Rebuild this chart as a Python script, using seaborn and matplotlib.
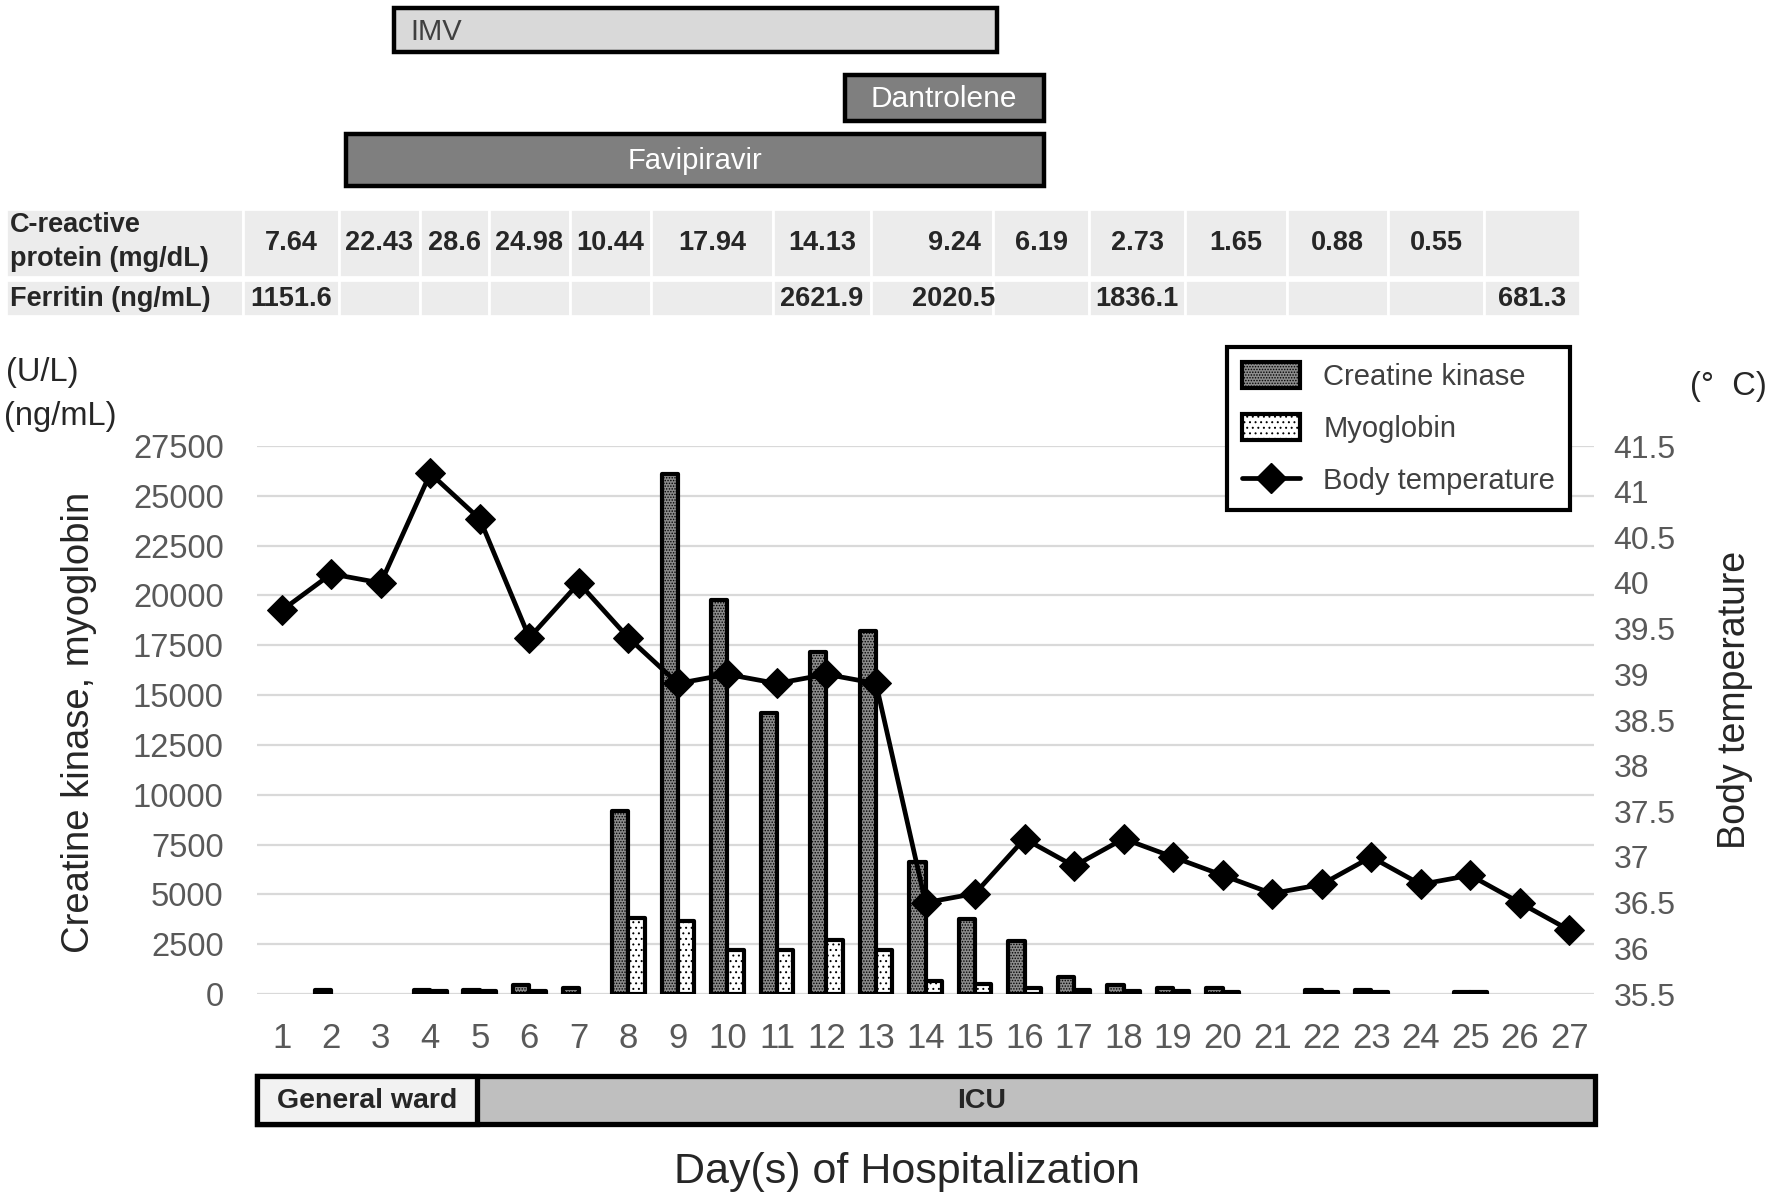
import numpy as np
import pandas as pd
import seaborn as sns
import matplotlib
matplotlib.use("Agg")
import matplotlib.pyplot as plt
from matplotlib.patches import Rectangle, Patch
from matplotlib.lines import Line2D

nan = np.nan
# ---------------- data ----------------
days = list(range(1, 28))
creatine_kinase = [nan, 200, nan, 200, 200, 450, 300, 9200, 26100, 19750, 14100, 17150,
                   18200, 6600, 3750, 2650, 850, 450, 300, 300, nan, 200, 200, nan, 120, nan, nan]
myoglobin = [nan, nan, nan, 150, 150, 150, nan, 3800, 3650, 2200, 2200, 2700,
             2200, 650, 500, 300, 200, 150, 150, 100, nan, 100, 100, nan, 100, nan, nan]
body_temperature = [39.7, 40.1, 40.0, 41.2, 40.7, 39.4, 40.0, 39.4, 38.9, 39.0, 38.9, 39.0,
                    38.9, 36.5, 36.6, 37.2, 36.9, 37.2, 37.0, 36.8, 36.6, 36.7, 37.0, 36.7,
                    36.8, 36.5, 36.2]
crp_values = ["7.64", "22.43", "28.6", "24.98", "10.44", "17.94", "14.13", "9.24", "6.19",
              "2.73", "1.65", "0.88", "0.55", ""]
ferritin_values = ["1151.6", "", "", "", "", "", "2621.9", "2020.5", "", "1836.1", "", "", "", "681.3"]
y_left_ticks = list(range(0, 27501, 2500))
y_right_ticks = [35.5, 36, 36.5, 37, 37.5, 38, 38.5, 39, 39.5, 40, 40.5, 41, 41.5]
series_names = ["Creatine kinase", "Myoglobin"]
legend_labels = ["Creatine kinase", "Myoglobin", "Body temperature"]

# ---------------- layout (pixels) ----------------
W, H = 1770, 1201
AX_L, AX_R, AX_T, AX_B = 257, 1594, 446, 994
col_edges = [6, 243, 339, 420, 489, 570, 651, 773, 871, 993, 1089, 1185, 1287, 1388, 1484, 1580]
col_nudge = [0, 0, 0, 0, 0, 0, 0, 22, 0, 0, 0, 0, 0, 0]
crp_row = (209, 277)
fer_row = (280, 316)
TFS = 19.5  # table font size

sns.set_theme(style="white")
plt.rcParams["font.family"] = ["Liberation Sans", "DejaVu Sans"]
plt.rcParams["hatch.linewidth"] = 0.7

fig = plt.figure(figsize=(W / 100, H / 100), dpi=100)
fig.patch.set_facecolor("white")

# overlay axes in pixel coordinates
ov = fig.add_axes([0, 0, 1, 1])
ov.set_xlim(0, W)
ov.set_ylim(H, 0)
ov.axis("off")


def box(x0, x1, y0, y1, fc, lw=3.2, ec="black", z=2):
    ov.add_patch(Rectangle((x0, y0), x1 - x0, y1 - y0, facecolor=fc, edgecolor=ec,
                           linewidth=lw, zorder=z))


# treatment bars
box(394, 997, 8, 52, "#d9d9d9")
ov.text(410, 32, "IMV", fontsize=21, color="#404040", ha="left", va="center")
box(845, 1044, 75, 121, "#7f7f7f")
ov.text(944, 99, "Dantrolene", fontsize=21.5, color="white", ha="center", va="center")
box(346, 1044, 134, 186, "#7f7f7f")
ov.text(695, 161, "Favipiravir", fontsize=21, color="white", ha="center", va="center")

# table
for i in range(len(col_edges) - 1):
    x0, x1 = col_edges[i], col_edges[i + 1]
    for (y0, y1) in (crp_row, fer_row):
        ov.add_patch(Rectangle((x0, y0), x1 - x0, y1 - y0, facecolor="#ececec",
                               edgecolor="white", linewidth=2, zorder=1))
ov.text(10, 225, "C-reactive", fontsize=TFS, fontweight="bold", ha="left", va="center")
ov.text(10, 259, "protein (mg/dL)", fontsize=TFS, fontweight="bold", ha="left", va="center")
ov.text(10, 299, "Ferritin (ng/mL)", fontsize=TFS, fontweight="bold", ha="left", va="center")
for i in range(len(crp_values)):
    cx = (col_edges[i + 1] + col_edges[i + 2]) / 2 + col_nudge[i]
    ov.text(cx, 243, crp_values[i], fontsize=TFS, fontweight="bold", ha="center", va="center")
    ov.text(cx, 299, ferritin_values[i], fontsize=TFS, fontweight="bold", ha="center", va="center")

# ward bar
box(257, 1595, 1076, 1124, "#bfbfbf", lw=3.8)
box(257, 477, 1076, 1124, "#f2f2f2", lw=3.8)
ov.text(367, 1101, "General ward", fontsize=20.5, fontweight="bold", ha="center", va="center")
ov.text(982, 1101, "ICU", fontsize=20.5, fontweight="bold", ha="center", va="center")

# axis titles / units
ov.text(907, 1172, "Day(s) of Hospitalization", fontsize=31, ha="center", va="center")
ov.text(79, 722, "Creatine kinase, myoglobin", fontsize=27.5, rotation=90, ha="center", va="center")
ov.text(1735, 700, "Body temperature", fontsize=27, rotation=90, ha="center", va="center")
ov.text(6, 373, "(U/L)", fontsize=23.5, ha="left", va="center")
ov.text(4, 416, "(ng/mL)", fontsize=23.5, ha="left", va="center")
ov.text(1728, 387, "(°  C)", fontsize=23.5, ha="center", va="center")

# ---------------- main chart ----------------
ax = fig.add_axes([AX_L / W, 1 - AX_B / H, (AX_R - AX_L) / W, (AX_B - AX_T) / H])
ax.set_facecolor("none")

df = pd.DataFrame({
    "day": days * 2,
    "value": creatine_kinase + myoglobin,
    "measure": [series_names[0]] * len(days) + [series_names[1]] * len(days),
}).dropna()

sns.barplot(data=df, x="day", y="value", hue="measure", order=days, hue_order=series_names,
            palette=["#8c8c8c", "white"], width=0.66, edgecolor="black", linewidth=3.0,
            errorbar=None, legend=False, ax=ax, zorder=3)
hatches = ["......", "..."]
for cont, h in zip(ax.containers, hatches):
    for p in cont.patches:
        p.set_hatch(h)
        p.set_joinstyle("round")

ax.set_ylim(0, 27500)
ax.set_yticks(y_left_ticks)
ax.set_yticklabels([str(v) for v in y_left_ticks])
ax.grid(axis="y", color="#d9d9d9", linewidth=1.6, zorder=0)
ax.set_axisbelow(True)
for s in ax.spines.values():
    s.set_visible(False)
ax.tick_params(axis="y", length=0, pad=24, labelsize=23.5, labelcolor="#595959")
ax.tick_params(axis="x", length=0, pad=20, labelsize=25, labelcolor="#595959")
ax.set_xlabel("")
ax.set_ylabel("")

ax2 = ax.twinx()
sns.lineplot(x=np.arange(len(days)), y=body_temperature, ax=ax2, color="black", linewidth=3.4,
             marker="D", markersize=15, markeredgecolor="black", markerfacecolor="black")
ax2.set_ylim(35.5, 41.5)
ax2.set_yticks(y_right_ticks)
ax2.set_yticklabels([("%g" % v) for v in y_right_ticks])
ax2.tick_params(axis="y", length=0, pad=14, labelsize=23, labelcolor="#595959")
for s in ax2.spines.values():
    s.set_visible(False)
ax2.set_ylabel("")
ax2.grid(False)
ax.set_xlim(-0.5, len(days) - 0.5)

# legend
handles = [
    Patch(facecolor="#8c8c8c", edgecolor="black", hatch="......", linewidth=3),
    Patch(facecolor="white", edgecolor="black", hatch="...", linewidth=3),
    Line2D([0], [0], color="black", linewidth=3.4, marker="D", markersize=15),
]
leg = fig.legend(handles, legend_labels,
                 loc="upper left", bbox_to_anchor=(1227 / W, 1 - 347 / H), borderaxespad=0,
                 fontsize=21, labelcolor="#404040", frameon=True, fancybox=False,
                 edgecolor="black", handlelength=2.0, handleheight=1.0,
                 labelspacing=0.8, borderpad=0.5, handletextpad=0.8)
leg.get_frame().set_linewidth(3)
leg.get_frame().set_facecolor("white")
leg.get_frame().set_alpha(1)

fig.savefig("out.png", dpi=100, facecolor="white")
